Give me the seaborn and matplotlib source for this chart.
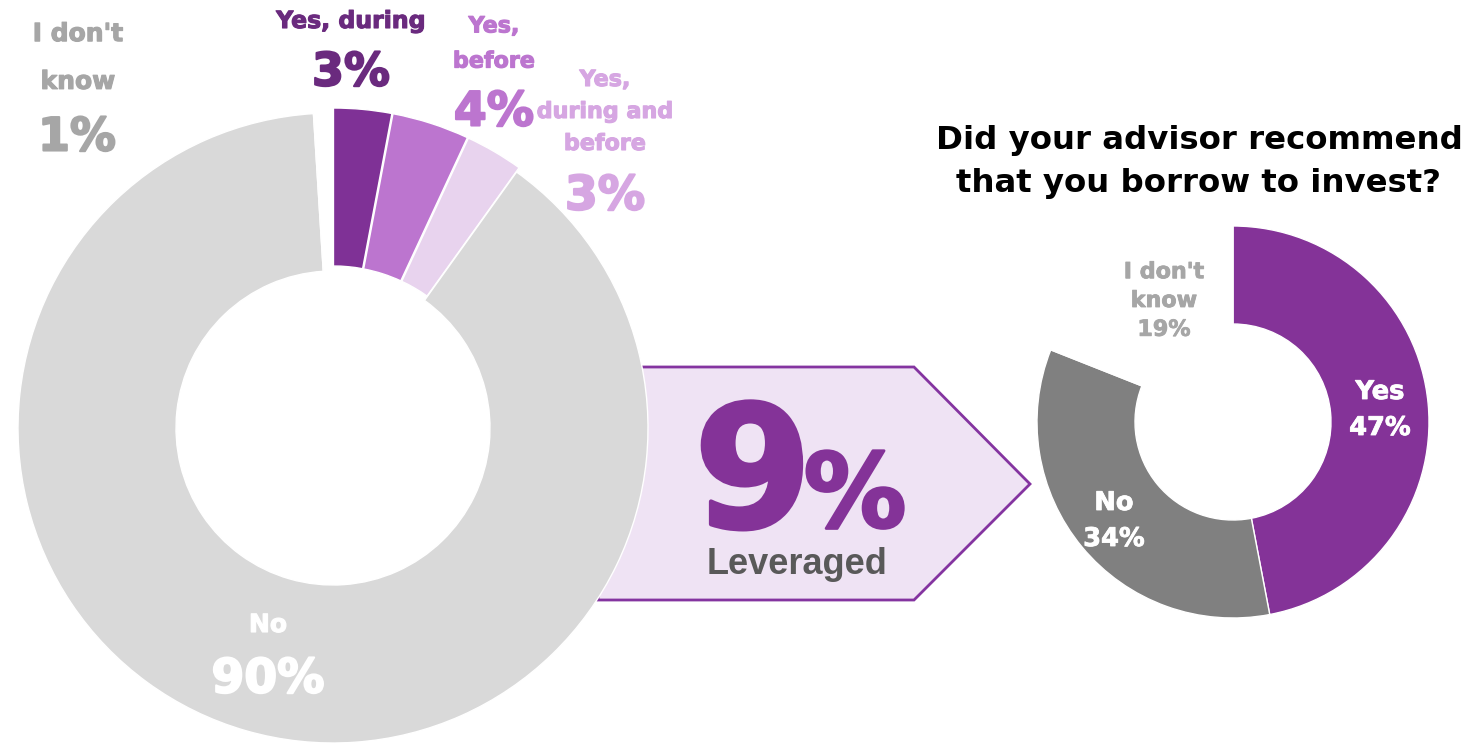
import matplotlib
matplotlib.use("Agg")
import matplotlib.pyplot as plt
import matplotlib.patheffects as pe
from matplotlib.patches import Polygon
import seaborn as sns

# Data
main_labels = ["Yes, during", "Yes, before", "Yes, during and before", "No", "I don't know"]
main_values = [3, 4, 3, 90, 1]
main_colors = ["#7F3196", "#BC75CF", "#E8D3EE", "#D9D9D9", "#FFFFFF"]

advisor_labels = ["Yes", "No", "I don't know"]
advisor_values = [47, 34, 19]
advisor_colors = ["#843398", "#808080", "#FFFFFF"]

leveraged_share = 9
title = "Did your advisor recommend\nthat you borrow to invest?"

W, H = 1468, 743
sns.set_theme(style="white")
plt.rcParams["font.family"] = ["DejaVu Sans"]

fig = plt.figure(figsize=(W / 100, H / 100), dpi=100)
ax = fig.add_axes([0, 0, 1, 1])


def py(y):
    # pixel row -> data y
    return H - y


def heavy(color, lw=0.8):
    # thicken the bold glyphs a little
    return [pe.withStroke(linewidth=lw, foreground=color)]


# arrow behind the big donut
arrow = Polygon([(598, py(367)), (914, py(367)), (1030, py(484)),
                 (914, py(600)), (598, py(600))],
                closed=True, facecolor="#EFE3F4", edgecolor="#8434A0",
                linewidth=2, zorder=0)
ax.add_patch(arrow)

# big donut
ax.pie(main_values, colors=main_colors, startangle=90, counterclock=False,
       radius=315, center=(333, py(428)), explode=[5, 5, 5, 0, 0],
       wedgeprops=dict(width=158, edgecolor="white", linewidth=1),
       frame=True)

# small donut
ax.pie(advisor_values, colors=advisor_colors, startangle=90, counterclock=False,
       radius=196, center=(1233, py(422)),
       wedgeprops=dict(width=98, edgecolor="white", linewidth=1),
       frame=True)

bold = dict(fontweight="bold", ha="center", va="center")

# big donut labels
c1, c2, c3, cg = "#6A2A7E", "#BC75CF", "#D6A6E2", "#A6A6A6"
ax.text(351, py(21), "Yes, during", color=c1, fontsize=17,
        path_effects=heavy(c1), **bold)
ax.text(351, py(73), f"{main_values[0]}%", color=c1, fontsize=33,
        path_effects=heavy(c1, 1.5), **bold)

ax.text(494, py(44), "Yes,\nbefore", color=c2, fontsize=16,
        linespacing=1.95, path_effects=heavy(c2), **bold)
ax.text(494, py(113), f"{main_values[1]}%", color=c2, fontsize=34,
        path_effects=heavy(c2, 1.5), **bold)

ax.text(605, py(112), "Yes,\nduring and\nbefore", color=c3, fontsize=16,
        linespacing=1.75, path_effects=heavy(c3), **bold)
ax.text(605, py(197), f"{main_values[2]}%", color=c3, fontsize=34,
        path_effects=heavy(c3, 1.5), **bold)

ax.text(78, py(58), "I don't\nknow", color=cg, fontsize=18,
        linespacing=2.25, path_effects=heavy(cg), **bold)
ax.text(77, py(138), f"{main_values[4]}%", color=cg, fontsize=33,
        path_effects=heavy(cg, 1.5), **bold)

ax.text(268, py(625), "No", color="white", fontsize=18,
        path_effects=heavy("white"), **bold)
ax.text(268, py(680), f"{main_values[3]}%", color="white", fontsize=34,
        path_effects=heavy("white", 1.5), **bold)

# arrow text
ax.text(753, py(527), f"{leveraged_share}", color="#843398", fontsize=122,
        fontweight="bold", ha="center", va="baseline",
        path_effects=heavy("#843398", 3))
ax.text(855, py(527), "%", color="#843398", fontsize=74,
        fontweight="bold", ha="center", va="baseline",
        path_effects=heavy("#843398", 2))
ax.text(797, py(574), "Leveraged", color="#595959", fontsize=26,
        fontweight="bold", family=["Liberation Sans", "DejaVu Sans"],
        ha="center", va="baseline")

# small donut labels
ax.text(1199, py(162), title, color="black", fontsize=23.3, linespacing=1.47,
        **bold)
ax.text(1164, py(301), f"I don't\nknow\n{advisor_values[2]}%", color=cg,
        fontsize=16, linespacing=1.55, path_effects=heavy(cg, 0.6), **bold)
ax.text(1380, py(410), f"Yes\n{advisor_values[0]}%", color="white",
        fontsize=18.5, linespacing=1.5, path_effects=heavy("white", 0.6), **bold)
ax.text(1114, py(521), f"No\n{advisor_values[1]}%", color="white",
        fontsize=18.5, linespacing=1.5, path_effects=heavy("white", 0.6), **bold)

ax.set_xlim(0, W)
ax.set_ylim(0, H)
ax.set_aspect("equal")
ax.axis("off")

fig.savefig("out.png", dpi=100, facecolor="white")
